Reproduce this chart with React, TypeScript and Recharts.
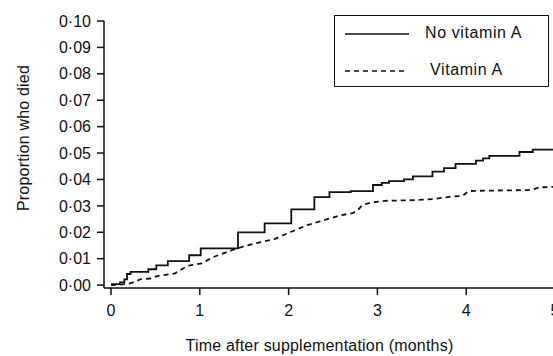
import { Label, Line, LineChart, XAxis, YAxis } from "recharts";

// months after supplementation / cumulative proportion who died
const noVitaminTimes = [
  0, 0.1, 0.15, 0.18, 0.22, 0.42, 0.51, 0.64, 0.88, 1.01, 1.43, 1.73, 2.03, 2.29, 2.46, 2.7, 2.95, 3.05,
  3.13, 3.3, 3.4, 3.62, 3.75, 3.88, 4.11, 4.19, 4.26, 4.6, 4.75, 5.0,
];
const noVitaminDied = [
  0.0004, 0.001, 0.0022, 0.0042, 0.005, 0.006, 0.0075, 0.0091, 0.0113, 0.0139, 0.02, 0.0234, 0.0287, 0.0333,
  0.0352, 0.0356, 0.0379, 0.0387, 0.0394, 0.04, 0.0412, 0.043, 0.0443, 0.0459, 0.0471, 0.048, 0.0489, 0.0504,
  0.0513, 0.0513,
];

const vitaminTimes = [
  0, 0.19, 0.27, 0.33, 0.44, 0.53, 0.72, 0.78, 0.87, 1.02, 1.15, 1.37, 1.52, 1.62, 1.84, 2.03, 2.21, 2.4,
  2.59, 2.72, 2.78, 2.83, 2.93, 3.08, 3.45, 3.64, 3.81, 3.96, 4.03, 4.12, 4.73, 4.82, 5.0,
];
const vitaminDied = [
  0, 0.0004, 0.0013, 0.0022, 0.0025, 0.0035, 0.0044, 0.0057, 0.0074, 0.0082, 0.0106, 0.0133, 0.0149, 0.0158,
  0.0174, 0.0202, 0.0227, 0.0246, 0.0265, 0.0272, 0.0284, 0.0303, 0.0313, 0.0319, 0.0322, 0.0326, 0.0334,
  0.0338, 0.0356, 0.0357, 0.036, 0.037, 0.0372,
];

const xTicks = [0, 1, 2, 3, 4, 5];
const yTicks = [0, 0.01, 0.02, 0.03, 0.04, 0.05, 0.06, 0.07, 0.08, 0.09, 0.1];

const noVitaminData = noVitaminTimes.map((t, i) => ({ t, p: noVitaminDied[i] }));
const vitaminData = vitaminTimes.map((t, i) => ({ t, p: vitaminDied[i] }));

const ink = "#111";
const font = "'Liberation Sans', Arial, Helvetica, sans-serif";
const tickStyle = { fill: ink, fontSize: 16, fontFamily: font };

function LegendBox() {
  return (
    <div
      style={{
        position: "absolute",
        left: 334,
        top: 15,
        width: 215,
        height: 72,
        border: `1.5px solid ${ink}`,
        background: "#fff",
        fontFamily: font,
        fontSize: 16,
        letterSpacing: 0.6,
        color: ink,
        boxSizing: "border-box",
      }}
    >
      <svg width={70} height={70} style={{ position: "absolute", left: 8, top: 0 }}>
        <line x1={2} x2={66} y1={18} y2={18} stroke={ink} strokeWidth={1.6} />
        <line x1={2} x2={62} y1={55} y2={55} stroke={ink} strokeWidth={1.6} strokeDasharray="5 4" />
      </svg>
      <div style={{ position: "absolute", left: 90, top: 8 }}>No vitamin A</div>
      <div style={{ position: "absolute", left: 95, top: 45 }}>Vitamin A</div>
    </div>
  );
}

export default function App() {
  return (
    <div
      style={{
        position: "absolute",
        left: 0,
        top: 0,
        width: 553,
        height: 356,
        overflow: "hidden",
        background: "#fff",
      }}
    >
      <LineChart width={570} height={356} margin={{ top: 21, right: 15, left: 0, bottom: 0 }}>
        <XAxis
          type="number"
          dataKey="t"
          domain={[-0.079, 5]}
          ticks={xTicks}
          interval={0}
          allowDataOverflow
          height={68}
          tickSize={7}
          tickMargin={10}
          stroke={ink}
          strokeWidth={1.5}
          tick={tickStyle}
        >
          <Label
            content={({ viewBox }: any) => (
              <text
                x={viewBox.x + viewBox.width / 2 - 10}
                y={351}
                textAnchor="middle"
                fill={ink}
                fontSize={16}
                fontFamily={font}
                letterSpacing={0.2}
              >
                Time after supplementation (months)
              </text>
            )}
          />
        </XAxis>
        <YAxis
          type="number"
          domain={[-0.0011, 0.1]}
          ticks={yTicks}
          interval={0}
          allowDataOverflow
          width={104}
          tickSize={7}
          tickMargin={6}
          stroke={ink}
          strokeWidth={1.5}
          tick={tickStyle}
          tickFormatter={(v: number) => v.toFixed(2).replace(".", "·")}
        >
          <Label
            content={() => (
              <text
                x={23}
                y={138}
                transform="rotate(-90 23 138)"
                textAnchor="middle"
                dominantBaseline="central"
                fill={ink}
                fontSize={16}
                fontFamily={font}
                letterSpacing={0.2}
              >
                Proportion who died
              </text>
            )}
          />
        </YAxis>
        <Line
          data={noVitaminData}
          dataKey="p"
          name="No vitamin A"
          type="stepAfter"
          stroke={ink}
          strokeWidth={1.8}
          dot={false}
          isAnimationActive={false}
        />
        <Line
          data={vitaminData}
          dataKey="p"
          name="Vitamin A"
          type="linear"
          stroke={ink}
          strokeWidth={1.8}
          strokeDasharray="5 4"
          dot={false}
          isAnimationActive={false}
        />
      </LineChart>
      <LegendBox />
    </div>
  );
}
